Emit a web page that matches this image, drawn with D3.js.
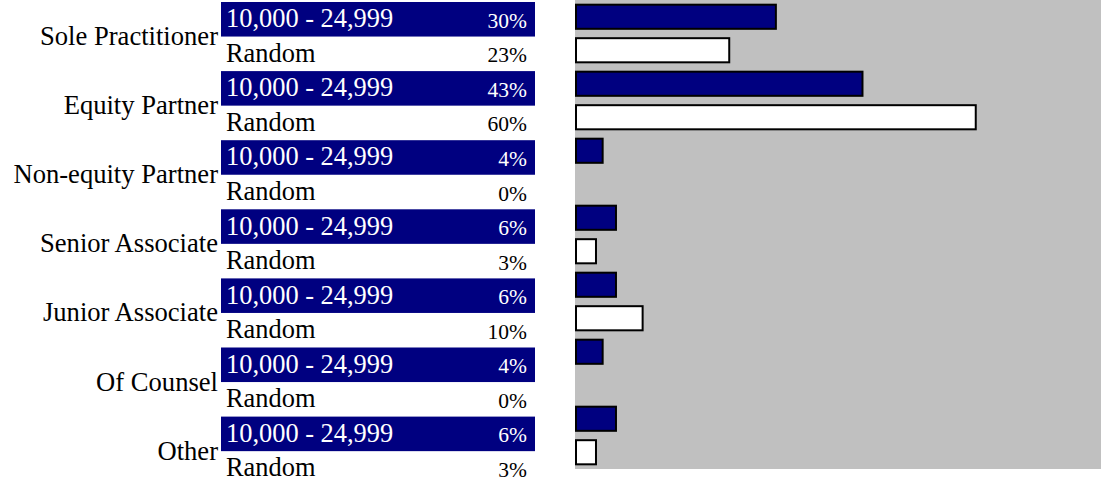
<!DOCTYPE html>
<html lang="en">
<head>
    <meta charset="UTF-8">
    <title>Income by Position</title>
    <script src="https://d3js.org/d3.v7.min.js"></script>
    <style>
        body {
            margin: 0;
            background: #fff;
            font-family: "Liberation Serif", "Times New Roman", serif;
        }
    </style>
</head>
<body>
    <script>
        // Data
        const categories = [
            "Sole Practitioner", "Equity Partner", "Non-equity Partner",
            "Senior Associate", "Junior Associate", "Of Counsel", "Other"
        ];
        const series = ["10,000 - 24,999", "Random"];
        const incomeValues = [30, 43, 4, 6, 6, 4, 6];
        const randomValues = [23, 60, 0, 3, 10, 0, 3];

        // Set up
        const width = 1101;
        const height = 482;
        const navy = "#000080";

        const rows = [];
        categories.forEach((c, i) => {
            rows.push({ cat: c, s: 0, label: series[0], value: incomeValues[i] });
            rows.push({ cat: c, s: 1, label: series[1], value: randomValues[i] });
        });

        const svg = d3.select("body").append("svg")
            .attr("width", width)
            .attr("height", height);

        // left table
        const tableX0 = 221, tableX1 = 535;
        const yRow = d3.scaleBand()
            .domain(d3.range(rows.length))
            .range([2, 485.7]);

        const row = svg.append("g")
            .selectAll("g")
            .data(rows)
            .join("g")
            .attr("transform", (d, i) => `translate(0,${yRow(i)})`);

        row.filter(d => d.s === 0).append("rect")
            .attr("x", tableX0)
            .attr("width", tableX1 - tableX0)
            .attr("height", yRow.bandwidth())
            .attr("fill", navy);

        row.append("text")
            .attr("x", tableX0 + 5)
            .attr("y", yRow.bandwidth() / 2 + 8)
            .attr("font-size", 26.4)
            .attr("fill", d => d.s === 0 ? "#fff" : "#000")
            .text(d => d.label);

        row.append("text")
            .attr("x", tableX1 - 8)
            .attr("y", yRow.bandwidth() / 2 + 8.5)
            .attr("font-size", 21.5)
            .attr("text-anchor", "end")
            .attr("fill", d => d.s === 0 ? "#fff" : "#000")
            .text(d => d.value + "%");

        // category labels, centred between the two rows
        svg.append("g")
            .selectAll("text")
            .data(categories)
            .join("text")
            .attr("x", 218)
            .attr("y", (d, i) => yRow(i * 2) + yRow.bandwidth())
            .attr("dy", "0.32em")
            .attr("text-anchor", "end")
            .attr("font-size", 26.6)
            .attr("fill", "#000")
            .text(d => d);

        // bar panel
        const panelX = 575, panelH = 469;
        svg.append("rect")
            .attr("x", panelX)
            .attr("y", 0)
            .attr("width", width - panelX)
            .attr("height", panelH)
            .attr("fill", "#c0c0c0");

        const x = d3.scaleLinear()
            .domain([0, 80])
            .range([panelX + 1, panelX + 1 + 533]);

        const y0 = d3.scaleBand()
            .domain(categories)
            .range([0, panelH]);

        const y1 = d3.scaleBand()
            .domain(series)
            .range([0, y0.bandwidth()])
            .paddingInner(0.28)
            .paddingOuter(0.14);

        svg.append("g")
            .selectAll("rect")
            .data(rows.filter(d => d.value > 0))
            .join("rect")
            .attr("x", x(0))
            .attr("y", d => y0(d.cat) + y1(d.label))
            .attr("width", d => x(d.value) - x(0))
            .attr("height", y1.bandwidth())
            .attr("fill", d => d.s === 0 ? navy : "#fff")
            .attr("stroke", "#000")
            .attr("stroke-width", 2);
    </script>
</body>
</html>
